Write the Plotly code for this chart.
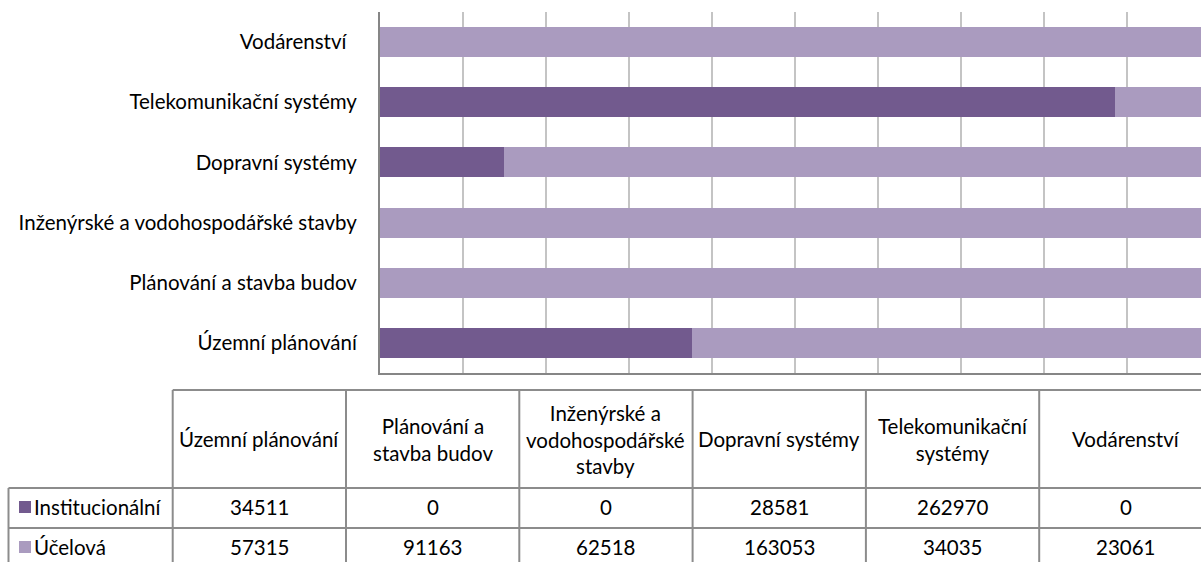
import plotly.graph_objects as go

# ---- data ----
categories = ["Územní plánování", "Plánování a stavba budov",
              "Inženýrské a vodohospodářské stavby", "Dopravní systémy",
              "Telekomunikační systémy", "Vodárenství"]
table_headers = ["Územní plánování", "Plánování a<br>stavba budov",
                 "Inženýrské a<br>vodohospodářské<br>stavby", "Dopravní systémy",
                 "Telekomunikační<br>systémy", "Vodárenství"]
series_names = ["Institucionální", "Účelová"]
institucionalni = [34511, 0, 0, 28581, 262970, 0]
ucelova = [57315, 91163, 62518, 163053, 34035, 23061]

# ---- style ----
colors = ["#725A8E", "#AA9BBF"]
FONT = "Lato"
FS = 20.5
W, H = 1201, 562
L, T = 380, 12
PW, PH = W - L, 361
B = H - T - PH
axis_col = "#868686"
grid_col = "#C4C4C4"
tbl_col = "#8C8C8C"

series = [institucionalni, ucelova]
totals = [a + b for a, b in zip(institucionalni, ucelova)]

fig = go.Figure()
for name, vals, col in zip(series_names, series, colors):
    fig.add_trace(go.Bar(
        y=categories, x=[v / t for v, t in zip(vals, totals)],
        orientation="h", name=name, marker=dict(color=col, line=dict(width=0)),
        width=0.5, showlegend=False,
    ))

def X(px):
    return (px - L) / PW

def Y(py):
    return (T + PH - py) / PH

shapes = []
annotations = []

def hline(y, x0, x1):
    shapes.append(dict(type="line", xref="paper", yref="paper",
                       x0=X(x0), x1=X(x1), y0=Y(y), y1=Y(y),
                       line=dict(color=tbl_col, width=2)))

def vline(x, y0, y1):
    shapes.append(dict(type="line", xref="paper", yref="paper",
                       x0=X(x), x1=X(x), y0=Y(y0), y1=Y(y1),
                       line=dict(color=tbl_col, width=2)))

# table geometry
col_left = 172.7
col_w = 173.3
top_y, hdr_bot, row1_bot, row2_bot = 390, 488, 528, 568
leg_left = 8.5
right_x = col_left + col_w * len(categories)

hline(top_y, col_left, right_x)
hline(hdr_bot, leg_left, right_x)
hline(row1_bot, leg_left, right_x)
vline(leg_left, hdr_bot, row2_bot)
for i in range(len(categories) + 1):
    vline(col_left + i * col_w, top_y, row2_bot)

# headers
for i, h in enumerate(table_headers):
    annotations.append(dict(xref="paper", yref="paper",
                            x=X(col_left + (i + 0.5) * col_w), y=Y((top_y + hdr_bot) / 2),
                            text=h, showarrow=False, xanchor="center", yanchor="middle",
                            font=dict(family=FONT, size=FS, color="#000")))

row_bounds = [(hdr_bot, row1_bot), (row1_bot, row2_bot)]
for (r0, r1), name, vals, col in zip(row_bounds, series_names, series, colors):
    yc = (r0 + r1) / 2 - 1
    for i, v in enumerate(vals):
        annotations.append(dict(xref="paper", yref="paper",
                                x=X(col_left + (i + 0.5) * col_w), y=Y(yc),
                                text=str(v), showarrow=False, xanchor="center", yanchor="middle",
                                font=dict(family=FONT, size=FS, color="#000")))
    # legend key
    shapes.append(dict(type="rect", xref="paper", yref="paper",
                       x0=X(19), x1=X(31), y0=Y(yc - 6), y1=Y(yc + 6),
                       fillcolor=col, line=dict(width=0)))
    annotations.append(dict(xref="paper", yref="paper", x=X(32), y=Y(yc),
                            text=name, showarrow=False, xanchor="left", yanchor="middle",
                            font=dict(family=FONT, size=FS, color="#000")))

ticktext = [c + ("\u00a0\u00a0" if c == "Vodárenství" else "") for c in categories]

fig.update_layout(
    width=W, height=H,
    margin=dict(l=L, r=0, t=T, b=B, pad=0),
    barmode="stack",
    plot_bgcolor="white", paper_bgcolor="white",
    font=dict(family=FONT, size=FS, color="#000"),
    xaxis=dict(range=[0, PW / 830.5], dtick=0.1, tick0=0, showgrid=True,
               gridcolor=grid_col, gridwidth=2, showticklabels=False,
               showline=True, linecolor=axis_col, linewidth=2, zeroline=False,
               ticks="", fixedrange=True),
    yaxis=dict(showline=True, linecolor=axis_col, linewidth=2, ticks="",
               tickmode="array", tickvals=categories, ticktext=ticktext,
               ticklabelstandoff=17, showgrid=False, zeroline=False,
               tickfont=dict(family=FONT, size=FS, color="#000"),
               categoryorder="array", categoryarray=categories),
    shapes=shapes, annotations=annotations,
)

fig.write_html("out.html", config={"displayModeBar": False},
               post_script="document.body.style.margin='0';document.body.style.overflow='hidden';")
